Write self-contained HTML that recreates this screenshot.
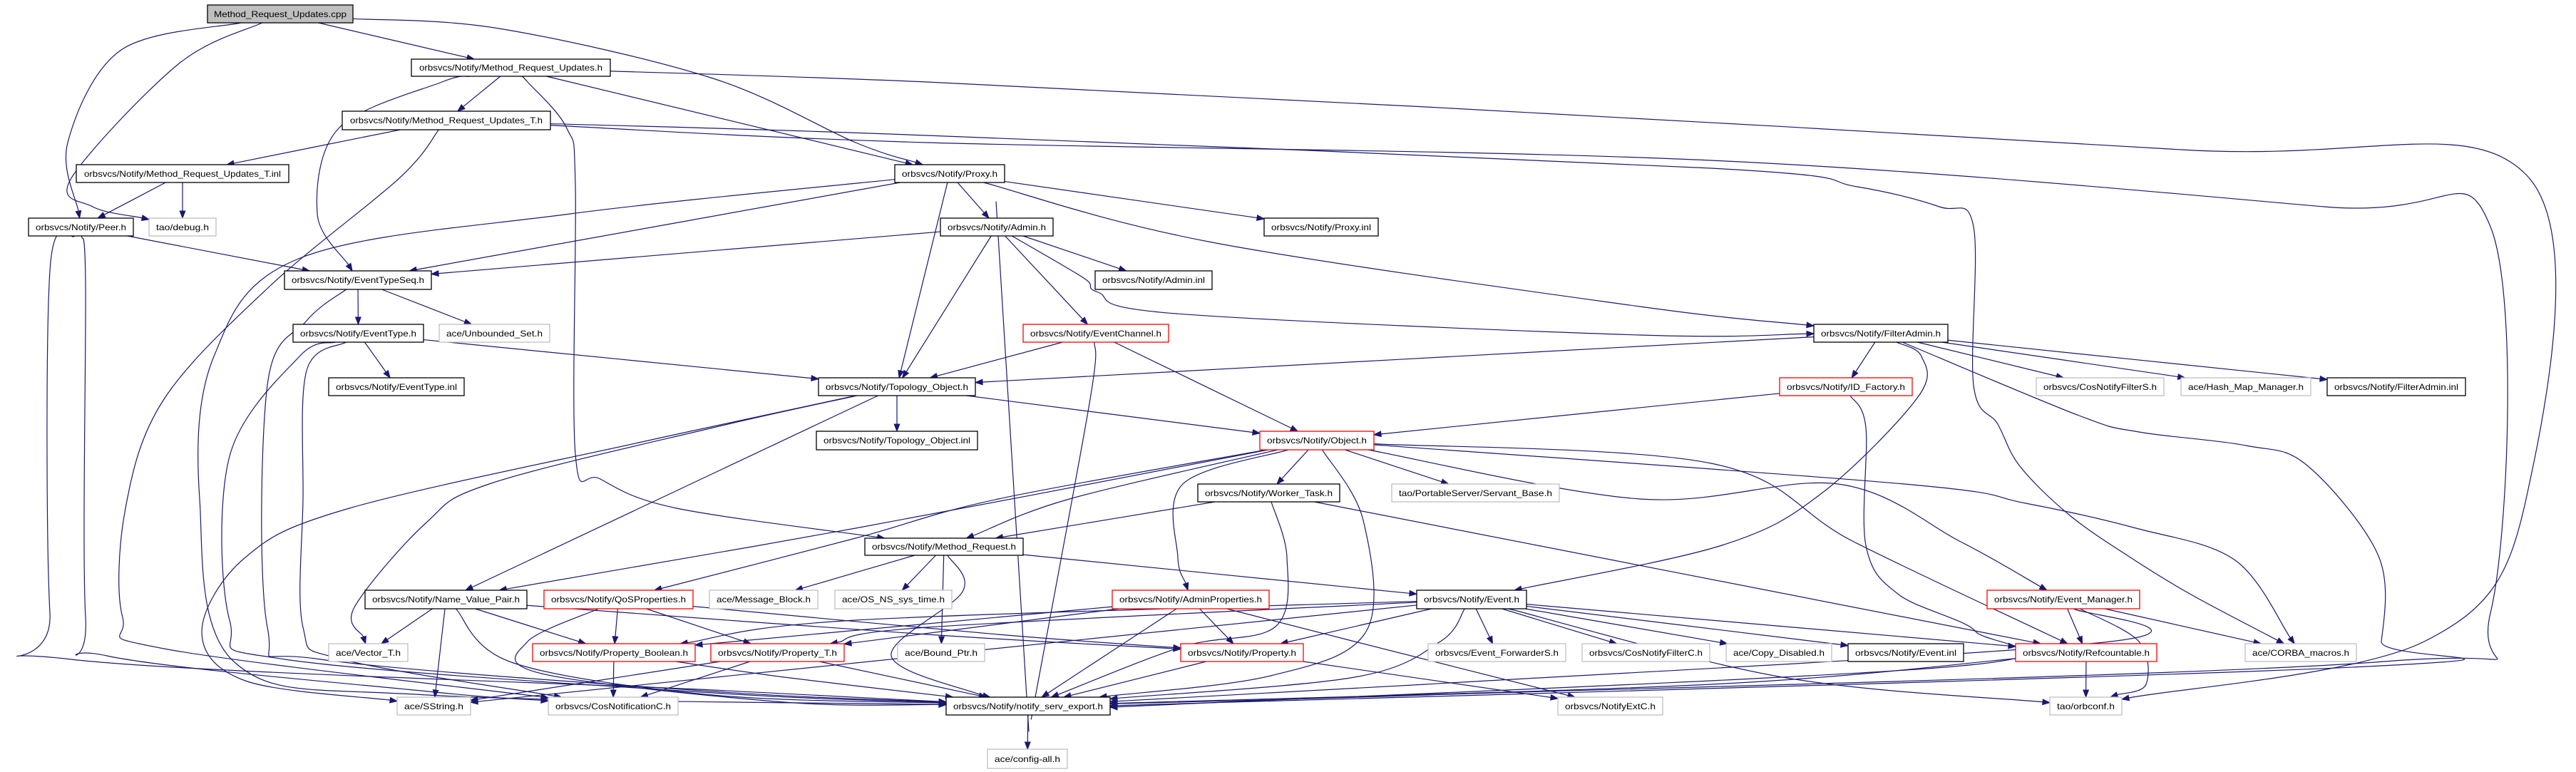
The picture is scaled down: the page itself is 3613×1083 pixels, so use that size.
<!DOCTYPE html>
<html><head><meta charset="utf-8"><style>
html,body{margin:0;padding:0;background:#fff;}
svg{display:block;}
text{font-family:"Liberation Sans",sans-serif;font-size:12px;fill:#000;}
</style></head><body>
<svg id="g" width="3613" height="1083" viewBox="0 0 3613 1083" xmlns="http://www.w3.org/2000/svg">
<g id="edges" fill="none" stroke="#191970" stroke-width="1.2"></g>
<g id="arrows" fill="#191970" stroke="#191970" stroke-width="1"></g>
<g id="nodes">
<rect x="291" y="7" width="204" height="25" fill="#bfbfbf" stroke="#000" stroke-width="1.3"/><text x="393" y="24" text-anchor="middle" textLength="186" lengthAdjust="spacingAndGlyphs">Method_Request_Updates.cpp</text>
<rect x="577" y="83" width="279" height="24" fill="#fff" stroke="#000" stroke-width="1.3"/><text x="716.5" y="99" text-anchor="middle" textLength="257" lengthAdjust="spacingAndGlyphs">orbsvcs/Notify/Method_Request_Updates.h</text>
<rect x="480" y="156" width="292" height="26" fill="#fff" stroke="#000" stroke-width="1.3"/><text x="626" y="173" text-anchor="middle" textLength="270" lengthAdjust="spacingAndGlyphs">orbsvcs/Notify/Method_Request_Updates_T.h</text>
<rect x="107" y="231" width="298" height="25" fill="#fff" stroke="#000" stroke-width="1.3"/><text x="256" y="248" text-anchor="middle" textLength="276" lengthAdjust="spacingAndGlyphs">orbsvcs/Notify/Method_Request_Updates_T.inl</text>
<rect x="40" y="306" width="147" height="25" fill="#fff" stroke="#000" stroke-width="1.3"/><text x="113.5" y="323" text-anchor="middle" textLength="127" lengthAdjust="spacingAndGlyphs">orbsvcs/Notify/Peer.h</text>
<rect x="209" y="306" width="94" height="25" fill="#fff" stroke="#bfbfbf" stroke-width="1.3"/><text x="256" y="323" text-anchor="middle" textLength="74" lengthAdjust="spacingAndGlyphs">tao/debug.h</text>
<rect x="399" y="380" width="206" height="26" fill="#fff" stroke="#000" stroke-width="1.3"/><text x="502" y="397" text-anchor="middle" textLength="186" lengthAdjust="spacingAndGlyphs">orbsvcs/Notify/EventTypeSeq.h</text>
<rect x="411" y="455" width="183" height="25" fill="#fff" stroke="#000" stroke-width="1.3"/><text x="502.5" y="472" text-anchor="middle" textLength="163" lengthAdjust="spacingAndGlyphs">orbsvcs/Notify/EventType.h</text>
<rect x="616" y="455" width="155" height="25" fill="#fff" stroke="#bfbfbf" stroke-width="1.3"/><text x="693.5" y="472" text-anchor="middle" textLength="135" lengthAdjust="spacingAndGlyphs">ace/Unbounded_Set.h</text>
<rect x="461" y="530" width="190" height="25" fill="#fff" stroke="#000" stroke-width="1.3"/><text x="556" y="547" text-anchor="middle" textLength="170" lengthAdjust="spacingAndGlyphs">orbsvcs/Notify/EventType.inl</text>
<rect x="1255" y="231" width="154" height="25" fill="#fff" stroke="#000" stroke-width="1.3"/><text x="1332" y="248" text-anchor="middle" textLength="134" lengthAdjust="spacingAndGlyphs">orbsvcs/Notify/Proxy.h</text>
<rect x="1319" y="306" width="158" height="25" fill="#fff" stroke="#000" stroke-width="1.3"/><text x="1398" y="323" text-anchor="middle" textLength="138" lengthAdjust="spacingAndGlyphs">orbsvcs/Notify/Admin.h</text>
<rect x="1773" y="306" width="160" height="25" fill="#fff" stroke="#000" stroke-width="1.3"/><text x="1853" y="323" text-anchor="middle" textLength="140" lengthAdjust="spacingAndGlyphs">orbsvcs/Notify/Proxy.inl</text>
<rect x="1536" y="380" width="164" height="26" fill="#fff" stroke="#000" stroke-width="1.3"/><text x="1618" y="397" text-anchor="middle" textLength="144" lengthAdjust="spacingAndGlyphs">orbsvcs/Notify/Admin.inl</text>
<rect x="1435" y="455" width="204" height="25" fill="#fff" stroke="#f00" stroke-width="1.3"/><text x="1537" y="472" text-anchor="middle" textLength="184" lengthAdjust="spacingAndGlyphs">orbsvcs/Notify/EventChannel.h</text>
<rect x="1148" y="530" width="220" height="25" fill="#fff" stroke="#000" stroke-width="1.3"/><text x="1258" y="547" text-anchor="middle" textLength="200" lengthAdjust="spacingAndGlyphs">orbsvcs/Notify/Topology_Object.h</text>
<rect x="2544" y="455" width="188" height="25" fill="#fff" stroke="#000" stroke-width="1.3"/><text x="2638" y="472" text-anchor="middle" textLength="168" lengthAdjust="spacingAndGlyphs">orbsvcs/Notify/FilterAdmin.h</text>
<rect x="2496" y="530" width="186" height="25" fill="#fff" stroke="#f00" stroke-width="1.3"/><text x="2589" y="547" text-anchor="middle" textLength="166" lengthAdjust="spacingAndGlyphs">orbsvcs/Notify/ID_Factory.h</text>
<rect x="2856" y="530" width="179" height="25" fill="#fff" stroke="#bfbfbf" stroke-width="1.3"/><text x="2945.5" y="547" text-anchor="middle" textLength="159" lengthAdjust="spacingAndGlyphs">orbsvcs/CosNotifyFilterS.h</text>
<rect x="3059" y="530" width="182" height="25" fill="#fff" stroke="#bfbfbf" stroke-width="1.3"/><text x="3150" y="547" text-anchor="middle" textLength="162" lengthAdjust="spacingAndGlyphs">ace/Hash_Map_Manager.h</text>
<rect x="3264" y="530" width="194" height="25" fill="#fff" stroke="#000" stroke-width="1.3"/><text x="3361" y="547" text-anchor="middle" textLength="174" lengthAdjust="spacingAndGlyphs">orbsvcs/Notify/FilterAdmin.inl</text>
<rect x="1145" y="605" width="226" height="26" fill="#fff" stroke="#000" stroke-width="1.3"/><text x="1258" y="622" text-anchor="middle" textLength="206" lengthAdjust="spacingAndGlyphs">orbsvcs/Notify/Topology_Object.inl</text>
<rect x="1767" y="605" width="160" height="26" fill="#fff" stroke="#f00" stroke-width="1.3"/><text x="1847" y="622" text-anchor="middle" textLength="140" lengthAdjust="spacingAndGlyphs">orbsvcs/Notify/Object.h</text>
<rect x="1680" y="679" width="199" height="25" fill="#fff" stroke="#000" stroke-width="1.3"/><text x="1779.5" y="696" text-anchor="middle" textLength="179" lengthAdjust="spacingAndGlyphs">orbsvcs/Notify/Worker_Task.h</text>
<rect x="1952" y="679" width="235" height="25" fill="#fff" stroke="#bfbfbf" stroke-width="1.3"/><text x="2069.5" y="696" text-anchor="middle" textLength="215" lengthAdjust="spacingAndGlyphs">tao/PortableServer/Servant_Base.h</text>
<rect x="1213" y="755" width="222" height="24" fill="#fff" stroke="#000" stroke-width="1.3"/><text x="1324" y="771" text-anchor="middle" textLength="202" lengthAdjust="spacingAndGlyphs">orbsvcs/Notify/Method_Request.h</text>
<rect x="512" y="828" width="227" height="26" fill="#fff" stroke="#000" stroke-width="1.3"/><text x="625.5" y="845" text-anchor="middle" textLength="207" lengthAdjust="spacingAndGlyphs">orbsvcs/Notify/Name_Value_Pair.h</text>
<rect x="763" y="828" width="209" height="26" fill="#fff" stroke="#f00" stroke-width="1.3"/><text x="867.5" y="845" text-anchor="middle" textLength="189" lengthAdjust="spacingAndGlyphs">orbsvcs/Notify/QoSProperties.h</text>
<rect x="995" y="828" width="152" height="26" fill="#fff" stroke="#bfbfbf" stroke-width="1.3"/><text x="1071" y="845" text-anchor="middle" textLength="132" lengthAdjust="spacingAndGlyphs">ace/Message_Block.h</text>
<rect x="1171" y="828" width="164" height="26" fill="#fff" stroke="#bfbfbf" stroke-width="1.3"/><text x="1253" y="845" text-anchor="middle" textLength="144" lengthAdjust="spacingAndGlyphs">ace/OS_NS_sys_time.h</text>
<rect x="1560" y="828" width="220" height="26" fill="#fff" stroke="#f00" stroke-width="1.3"/><text x="1670" y="845" text-anchor="middle" textLength="200" lengthAdjust="spacingAndGlyphs">orbsvcs/Notify/AdminProperties.h</text>
<rect x="1987" y="828" width="154" height="26" fill="#fff" stroke="#000" stroke-width="1.3"/><text x="2064" y="845" text-anchor="middle" textLength="134" lengthAdjust="spacingAndGlyphs">orbsvcs/Notify/Event.h</text>
<rect x="2787" y="828" width="214" height="26" fill="#fff" stroke="#f00" stroke-width="1.3"/><text x="2894" y="845" text-anchor="middle" textLength="194" lengthAdjust="spacingAndGlyphs">orbsvcs/Notify/Event_Manager.h</text>
<rect x="461" y="903" width="111" height="25" fill="#fff" stroke="#bfbfbf" stroke-width="1.3"/><text x="516.5" y="920" text-anchor="middle" textLength="91" lengthAdjust="spacingAndGlyphs">ace/Vector_T.h</text>
<rect x="747" y="903" width="228" height="25" fill="#fff" stroke="#f00" stroke-width="1.3"/><text x="861" y="920" text-anchor="middle" textLength="208" lengthAdjust="spacingAndGlyphs">orbsvcs/Notify/Property_Boolean.h</text>
<rect x="997" y="903" width="187" height="25" fill="#fff" stroke="#f00" stroke-width="1.3"/><text x="1090.5" y="920" text-anchor="middle" textLength="167" lengthAdjust="spacingAndGlyphs">orbsvcs/Notify/Property_T.h</text>
<rect x="1259" y="903" width="122" height="25" fill="#fff" stroke="#bfbfbf" stroke-width="1.3"/><text x="1320" y="920" text-anchor="middle" textLength="102" lengthAdjust="spacingAndGlyphs">ace/Bound_Ptr.h</text>
<rect x="1656" y="903" width="172" height="25" fill="#fff" stroke="#f00" stroke-width="1.3"/><text x="1742" y="920" text-anchor="middle" textLength="152" lengthAdjust="spacingAndGlyphs">orbsvcs/Notify/Property.h</text>
<rect x="2003" y="903" width="193" height="25" fill="#fff" stroke="#bfbfbf" stroke-width="1.3"/><text x="2099.5" y="920" text-anchor="middle" textLength="173" lengthAdjust="spacingAndGlyphs">orbsvcs/Event_ForwarderS.h</text>
<rect x="2219" y="903" width="179" height="25" fill="#fff" stroke="#bfbfbf" stroke-width="1.3"/><text x="2308.5" y="920" text-anchor="middle" textLength="159" lengthAdjust="spacingAndGlyphs">orbsvcs/CosNotifyFilterC.h</text>
<rect x="2421" y="903" width="148" height="25" fill="#fff" stroke="#bfbfbf" stroke-width="1.3"/><text x="2495" y="920" text-anchor="middle" textLength="128" lengthAdjust="spacingAndGlyphs">ace/Copy_Disabled.h</text>
<rect x="2592" y="903" width="162" height="25" fill="#fff" stroke="#000" stroke-width="1.3"/><text x="2673" y="920" text-anchor="middle" textLength="142" lengthAdjust="spacingAndGlyphs">orbsvcs/Notify/Event.inl</text>
<rect x="2827" y="903" width="198" height="25" fill="#fff" stroke="#f00" stroke-width="1.3"/><text x="2926" y="920" text-anchor="middle" textLength="178" lengthAdjust="spacingAndGlyphs">orbsvcs/Notify/Refcountable.h</text>
<rect x="3149" y="903" width="156" height="25" fill="#fff" stroke="#bfbfbf" stroke-width="1.3"/><text x="3227" y="920" text-anchor="middle" textLength="136" lengthAdjust="spacingAndGlyphs">ace/CORBA_macros.h</text>
<rect x="557" y="978" width="103" height="25" fill="#fff" stroke="#bfbfbf" stroke-width="1.3"/><text x="608.5" y="995" text-anchor="middle" textLength="83" lengthAdjust="spacingAndGlyphs">ace/SString.h</text>
<rect x="769" y="978" width="182" height="25" fill="#fff" stroke="#bfbfbf" stroke-width="1.3"/><text x="860" y="995" text-anchor="middle" textLength="162" lengthAdjust="spacingAndGlyphs">orbsvcs/CosNotificationC.h</text>
<rect x="1327" y="978" width="230" height="25" fill="#fff" stroke="#000" stroke-width="1.3"/><text x="1442" y="995" text-anchor="middle" textLength="210" lengthAdjust="spacingAndGlyphs">orbsvcs/Notify/notify_serv_export.h</text>
<rect x="2185" y="978" width="147" height="25" fill="#fff" stroke="#bfbfbf" stroke-width="1.3"/><text x="2258.5" y="995" text-anchor="middle" textLength="127" lengthAdjust="spacingAndGlyphs">orbsvcs/NotifyExtC.h</text>
<rect x="2875" y="978" width="101" height="25" fill="#fff" stroke="#bfbfbf" stroke-width="1.3"/><text x="2925.5" y="995" text-anchor="middle" textLength="81" lengthAdjust="spacingAndGlyphs">tao/orbconf.h</text>
<rect x="1385" y="1051" width="112" height="27" fill="#fff" stroke="#bfbfbf" stroke-width="1.3"/><text x="1441" y="1069" text-anchor="middle" textLength="92" lengthAdjust="spacingAndGlyphs">ace/config-all.h</text>
</g>
</svg>
<script>
var N={cpp:[291,495,7,32],mru:[577,856,83,107],mrut:[480,772,156,182],mruti:[107,405,231,256],peer:[40,187,306,331],debug:[209,303,306,331],ets:[399,605,380,406],et:[411,594,455,480],us:[616,771,455,480],eti:[461,651,530,555],proxy:[1255,1409,231,256],admin:[1319,1477,306,331],proxyi:[1773,1933,306,331],admini:[1536,1700,380,406],ec:[1435,1639,455,480],topo:[1148,1368,530,555],fa:[2544,2732,455,480],idf:[2496,2682,530,555],cnfs:[2856,3035,530,555],hmm:[3059,3241,530,555],fai:[3264,3458,530,555],topoi:[1145,1371,605,631],obj:[1767,1927,605,631],wt:[1680,1879,679,704],sb:[1952,2187,679,704],mr:[1213,1435,755,779],nvp:[512,739,828,854],qos:[763,972,828,854],mb:[995,1147,828,854],ostime:[1171,1335,828,854],ap:[1560,1780,828,854],ev:[1987,2141,828,854],em:[2787,3001,828,854],vec:[461,572,903,928],pb:[747,975,903,928],pt:[997,1184,903,928],bp:[1259,1381,903,928],prop:[1656,1828,903,928],efs:[2003,2196,903,928],cnfc:[2219,2398,903,928],cd:[2421,2569,903,928],evi:[2592,2754,903,928],rc:[2827,3025,903,928],cm:[3149,3305,903,928],ss:[557,660,978,1003],cnc:[769,951,978,1003],nse:[1327,1557,978,1003],nec:[2185,2332,978,1003],orb:[2875,2976,978,1003],cfg:[1385,1497,1051,1078]};
var E=[
['cpp','peer',[[170,70],[95,200]]],['cpp','debug',[[250,90],[100,250],[130,290]]],['cpp','mru'],['cpp','proxy',[[700,40],[1000,110],[1200,200]]],
['mru','mrut'],['mru','ets',[[620,115],[475,180],[445,300]]],['mru','mr',[[740,115],[795,180],[807,260],[807,637],[842,672],[949,713]]],['mru','proxy'],
['mru','orb',[[1300,115],[2000,150],[3060,210],[3543,245],[3543,700],[3400,900]]],
['mrut','mruti'],['mrut','cnc',[[560,250],[380,400],[230,560],[176,713],[172,866],[230,910]]],
['mrut','cm',[[1300,190],[2400,236],[2605,262],[2720,290],[2768,318],[2768,540],[2802,595],[2833,654],[2903,723],[2988,782],[3073,834]]],
['mrut','nse',[[1300,200],[2400,225],[3260,290],[3493,318],[3493,860],[3344,928],[2000,975]]],
['mruti','peer'],['mruti','debug'],
['peer','ets'],['peer','nse',[[70,380],[70,860],[100,925],[1000,968]]],['peer','cnc',[[120,400],[120,866],[150,920],[600,970]]],
['proxy','ets'],['proxy','nse',[[800,300],[421,362],[300,500],[280,700],[330,930],[600,975]]],['proxy','admin'],['proxy','proxyi'],['proxy','topo'],['proxy','fa',[[1700,340],[2300,430]]],
['admin','ets'],['admin','admini'],['admin','ec'],['admin','topo'],['admin','nse',[[1400,331],[1440,978]]],['admin','fa',[[1520,390],[1540,410],[1650,440],[2300,470]]],
['ets','et'],['ets','us'],['ets','nse',[[430,450],[375,540],[375,880],[450,925],[1000,970]]],
['et','eti'],['et','topo'],['et','nse',[[420,500],[322,640],[322,870],[400,925],[1000,972]]],['et','cnc',[[430,520],[425,700],[425,880],[480,925]]],
['ec','topo'],['ec','obj'],['ec','nse',[[1535,480],[1529,560],[1452,978]]],
['fa','topo'],['fa','idf'],['fa','cnfs'],['fa','hmm'],['fa','fai'],['fa','ev',[[2695,500],[2690,557],[2555,692],[2415,765]]],
['fa','nse',[[2916,583],[3000,606],[3150,625],[3236,653],[3336,780],[3340,900],[3320,935],[1560,990]]],
['idf','obj'],['idf','nse',[[2617,600],[2617,765],[2663,834],[2771,886],[2740,935],[1560,992]]],
['topo','obj'],['topo','topoi'],['topo','nvp'],['topo','ss',[[900,620],[490,713],[344,782],[283,886],[344,955]]],['topo','vec',[[1000,600],[689,678],[597,734],[497,852]]],
['obj','wt'],['obj','sb'],['obj','nvp',[[1200,741]]],['obj','qos',[[1400,700],[1200,755]]],['obj','ap',[[1659,679],[1652,782]]],
['obj','nse',[[1912,730],[1916,886],[1782,948]]],['obj','em',[[2300,700],[2578,679],[2750,760]]],['obj','rc',[[2400,650],[2600,760]]],
['obj','cm',[[2671,679],[2841,706],[2996,741],[3135,786]]],['obj','mr',[[1500,700]]],
['wt','mr'],['wt','rc'],['wt','nse',[[1805,782],[1789,879],[1659,907]]],
['mr','ostime'],['mr','mb'],['mr','ev'],['mr','bp'],['mr','nse',[[1350,830],[1250,920],[1376,975]]],
['ap','pb'],['ap','pt'],['ap','prop'],['ap','nse'],['ap','nec',[[1900,900]]],
['ev','prop'],['ev','nse',[[2020,900],[1900,950]]],['ev','efs'],['ev','cnfc'],['ev','cd'],['ev','evi'],['ev','rc'],['ev','pt',[[1300,880]]],['ev','pb',[[1200,870]]],['ev','orb',[[2500,950]]],['ev','ss',[[1200,930]]],
['qos','pb'],['qos','pt'],['qos','nse',[[740,900],[760,945],[1100,985]]],['qos','prop',[[1400,890]]],
['nvp','vec'],['nvp','ss'],['nvp','pb'],['nvp','prop',[[1300,890]]],['nvp','nse',[[720,930],[1000,975]]],
['pb','cnc'],['pb','nse',[[1100,950]]],['pt','ss'],['pt','cnc'],['pt','nse'],
['prop','nse'],['prop','nec'],
['em','rc'],['em','cm'],['em','orb',[[3000,900],[3010,960]]],['em','nse',[[2960,900],[2000,960]]],
['rc','orb'],['rc','nse',[[2400,960]]],['nse','cfg']
];
function ctr(n){var b=N[n];return [(b[0]+b[1])/2,(b[2]+b[3])/2];}
function bord(n,p){var b=N[n],c=ctr(n),dx=p[0]-c[0],dy=p[1]-c[1];var hw=(b[1]-b[0])/2,hh=(b[3]-b[2])/2;var t=Math.min(dx?hw/Math.abs(dx):1e9,dy?hh/Math.abs(dy):1e9);return [c[0]+dx*t,c[1]+dy*t];}
var eg=document.getElementById('edges'),ag=document.getElementById('arrows'),ns='http://www.w3.org/2000/svg';
E.forEach(function(e){var v=e[2]||[];var first=v.length?v[0]:ctr(e[1]);var last=v.length?v[v.length-1]:ctr(e[0]);
var s=bord(e[0],first),t=bord(e[1],last);var pts=[s].concat(v).concat([t]);
var pe=pts[pts.length-2],dx=t[0]-pe[0],dy=t[1]-pe[1],L=Math.hypot(dx,dy)||1;dx/=L;dy/=L;
var al=10,aw=3.8;var base=[t[0]-dx*al,t[1]-dy*al];pts[pts.length-1]=base;
var d='M'+pts[0][0]+','+pts[0][1];
for(var i=0;i<pts.length-1;i++){var p0=pts[i-1]||pts[i],p1=pts[i],p2=pts[i+1],p3=pts[i+2]||p2;
d+=' C'+(p1[0]+(p2[0]-p0[0])/6)+','+(p1[1]+(p2[1]-p0[1])/6)+' '+(p2[0]-(p3[0]-p1[0])/6)+','+(p2[1]-(p3[1]-p1[1])/6)+' '+p2[0]+','+p2[1];}
var p=document.createElementNS(ns,'path');p.setAttribute('d',d);eg.appendChild(p);
var a=document.createElementNS(ns,'polygon');a.setAttribute('points',t[0]+','+t[1]+' '+(base[0]-dy*aw)+','+(base[1]+dx*aw)+' '+(base[0]+dy*aw)+','+(base[1]-dx*aw));ag.appendChild(a);});
</script>
</body></html>
